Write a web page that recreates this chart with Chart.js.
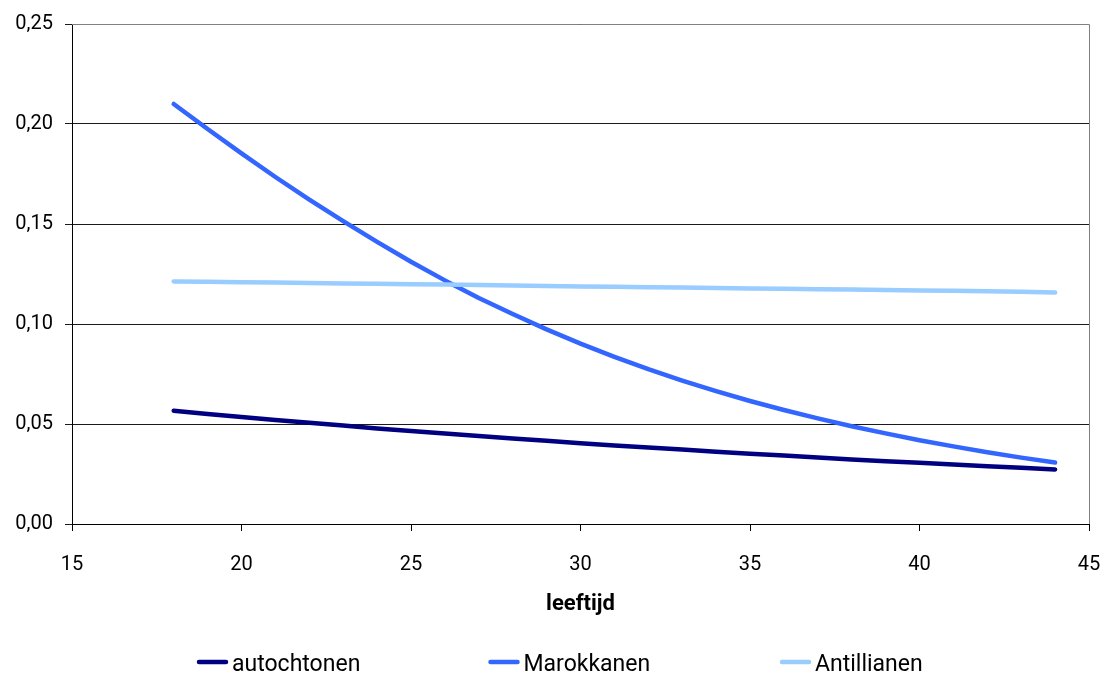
<!DOCTYPE html>
<html>
<head>
<meta charset="utf-8">
<title>leeftijd</title>
<script src="https://cdn.jsdelivr.net/npm/chart.js@4"></script>
<style>
  html, body { margin: 0; padding: 0; background: #fff; overflow: hidden; }
  #wrap { width: 1105px; height: 676px; position: relative; }
  #wrap canvas { display: block; }
</style>
</head>
<body>
<div id="wrap"><canvas id="myChart"></canvas></div>
<script>
// data (one point per year of age)
var ages = [18, 19, 20, 21, 22, 23, 24, 25, 26, 27, 28, 29, 30, 31, 32, 33, 34, 35, 36, 37, 38, 39, 40, 41, 42, 43, 44];
var autochtonen = [0.0566, 0.0550, 0.0535, 0.0520, 0.0506, 0.0492, 0.0478, 0.0465, 0.0452, 0.0440, 0.0427, 0.0416, 0.0404, 0.0393, 0.0382, 0.0372, 0.0361, 0.0351, 0.0342, 0.0332, 0.0323, 0.0314, 0.0306, 0.0297, 0.0289, 0.0281, 0.0273];
var marokkanen = [0.2100, 0.1975, 0.1853, 0.1735, 0.1622, 0.1514, 0.1411, 0.1311, 0.1218, 0.1130, 0.1050, 0.0973, 0.0902, 0.0836, 0.0774, 0.0717, 0.0664, 0.0615, 0.0570, 0.0528, 0.0489, 0.0453, 0.0419, 0.0388, 0.0359, 0.0332, 0.0307];
var antillianen = [0.1213, 0.1211, 0.1209, 0.1207, 0.1205, 0.1203, 0.1201, 0.1199, 0.1197, 0.1195, 0.1192, 0.1190, 0.1188, 0.1186, 0.1184, 0.1182, 0.1180, 0.1178, 0.1176, 0.1174, 0.1172, 0.1170, 0.1168, 0.1166, 0.1164, 0.1161, 0.1158];
var seriesNames = ["autochtonen", "Marokkanen", "Antillianen"];
var seriesColors = ["#000080", "#3366FF", "#99CCFF"];
var xTitle = "leeftijd";

function toPoints(values) {
    return ages.map(function (a, i) { return { x: a, y: values[i] }; });
}

Chart.defaults.color = "#000";
Chart.defaults.font.family = "Roboto";

// gray frame on top and right of the plot area
var framePlugin = {
    id: "frame",
    beforeDatasetsDraw: function (chart) {
        var a = chart.chartArea, ctx = chart.ctx;
        ctx.save();
        ctx.strokeStyle = "#808080";
        ctx.lineWidth = 1;
        ctx.beginPath();
        ctx.moveTo(a.left, a.top + 0.5);
        ctx.lineTo(a.right + 0.5, a.top + 0.5);
        ctx.lineTo(a.right + 0.5, a.bottom);
        ctx.stroke();
        ctx.restore();
    }
};

// excel style legend: equal slots along the bottom
var legendPlugin = {
    id: "bottomLegend",
    afterDraw: function (chart) {
        var ctx = chart.ctx;
        var startX = 197, slot = 291.5, lineY = 662;
        ctx.save();
        ctx.font = "23px Roboto";
        ctx.textBaseline = "alphabetic";
        ctx.textAlign = "left";
        chart.data.datasets.forEach(function (ds, i) {
            var x0 = startX + i * slot;
            ctx.strokeStyle = ds.borderColor;
            ctx.lineWidth = 4.5;
            ctx.lineCap = "round";
            ctx.beginPath();
            ctx.moveTo(x0 + 2, lineY);
            ctx.lineTo(x0 + 29, lineY);
            ctx.stroke();
            ctx.fillStyle = "#000";
            ctx.fillText(ds.label, x0 + 35, 671);
        });
        ctx.restore();
    }
};

var myChart = document.getElementById("myChart").getContext("2d");
var lineChart = new Chart(myChart, {
    type: "line",
    data: {
        datasets: [
            { label: seriesNames[0], data: toPoints(autochtonen), borderColor: seriesColors[0], order: 2 },
            { label: seriesNames[1], data: toPoints(marokkanen), borderColor: seriesColors[1], order: 1 },
            { label: seriesNames[2], data: toPoints(antillianen), borderColor: seriesColors[2], order: 0 }
        ]
    },
    options: {
        responsive: true,
        maintainAspectRatio: false,
        animation: false,
        layout: { padding: { left: 0, right: 16, top: 21, bottom: 0 } },
        elements: {
            line: { borderWidth: 4.5, tension: 0, borderCapStyle: "round", borderJoinStyle: "round", fill: false },
            point: { radius: 0, hoverRadius: 0 }
        },
        plugins: {
            legend: { display: false },
            tooltip: { enabled: false }
        },
        scales: {
            x: {
                type: "linear",
                min: 15,
                max: 45,
                afterFit: function (scale) {
                    scale.height = 152;
                    scale.paddingLeft = 0;
                    scale.paddingRight = 0;
                },
                ticks: { stepSize: 5, padding: 22, font: { size: 20 } },
                grid: { drawOnChartArea: false, drawTicks: true, tickLength: 7, color: "#000" },
                border: { color: "#000", width: 1 },
                title: {
                    display: true,
                    text: xTitle,
                    font: { size: 22, weight: "bold" },
                    padding: { top: 0, bottom: 58 }
                }
            },
            y: {
                min: 0,
                max: 0.25,
                afterFit: function (scale) { scale.width = 72; },
                ticks: {
                    stepSize: 0.05,
                    padding: 12,
                    font: { size: 20 },
                    callback: function (v) { return v.toFixed(2).replace(".", ","); }
                },
                grid: { drawTicks: true, tickLength: 7, color: "#1a1a1a" },
                border: { color: "#000", width: 1 }
            }
        }
    },
    plugins: [framePlugin, legendPlugin]
});
</script>
</body>
</html>
